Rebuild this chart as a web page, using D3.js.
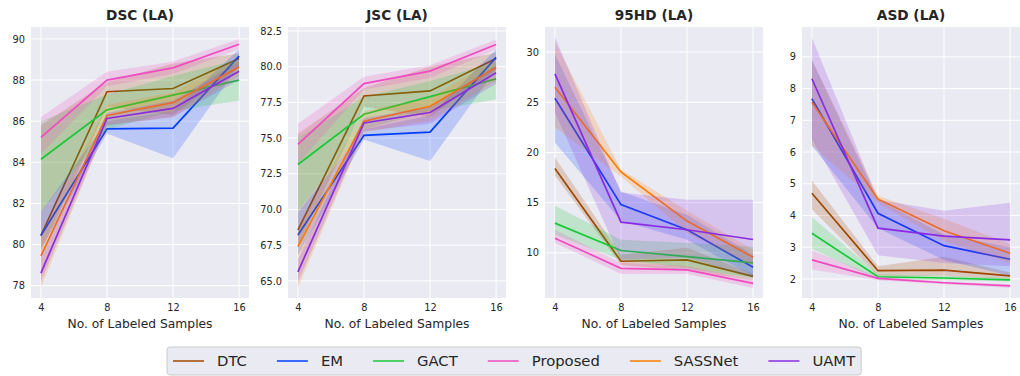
<!DOCTYPE html>
<html lang="en">
<head>
  <meta charset="UTF-8">
  <script src="https://d3js.org/d3.v7.min.js"></script>
  <style>
    body { margin: 0; background: #fff; }
    svg { display: block; font-family: "DejaVu Sans", sans-serif; }
  </style>
</head>
<body>
  <script>
    const width = 1020;
    const height = 376;

    const samples = [4, 8, 12, 16];
    const methods = ["DTC", "EM", "GACT", "Proposed", "SASSNet", "UAMT"];
    const colors = ["#9f4800", "#023eff", "#1ac938", "#f14cc1", "#ff7c00", "#8b2be2"];

    // DSC (LA): mean, lower and upper bound of the band, per method
    const dscMean = {
      DTC: [80.44, 87.43, 87.59, 89.05], EM: [80.44, 85.63, 85.66, 89.16],
      GACT: [84.15, 86.55, 87.27, 88.0], Proposed: [85.21, 88.0, 88.59, 89.74],
      SASSNet: [79.45, 86.28, 86.9, 88.64], UAMT: [78.61, 86.13, 86.62, 88.43]
    };
    const dscLow = {
      DTC: [79.6, 86.7, 86.3, 88.6], EM: [79.8, 85.4, 84.2, 88.7],
      GACT: [81.6, 85.6, 86.5, 87.0], Proposed: [84.4, 87.7, 88.3, 89.5],
      SASSNet: [77.9, 85.8, 86.2, 88.2], UAMT: [78.2, 85.8, 86.2, 88.0]
    };
    const dscHigh = {
      DTC: [85.8, 87.9, 88.8, 89.3], EM: [81.6, 86.0, 86.5, 89.5],
      GACT: [86.0, 87.3, 88.2, 89.0], Proposed: [86.2, 88.4, 88.9, 90.0],
      SASSNet: [80.5, 86.8, 87.4, 89.1], UAMT: [79.5, 86.4, 87.0, 88.9]
    };

    // JSC (LA)
    const jscMean = {
      DTC: [68.56, 77.95, 78.3, 80.58], EM: [68.21, 75.19, 75.42, 80.65],
      GACT: [73.15, 76.67, 77.9, 79.15], Proposed: [74.56, 78.82, 79.69, 81.56],
      SASSNet: [67.4, 76.18, 77.23, 79.95], UAMT: [65.63, 76.06, 76.79, 79.57]
    };
    const jscLow = {
      DTC: [67.5, 77.2, 76.5, 79.8], EM: [66.8, 74.9, 73.4, 79.8],
      GACT: [69.9, 75.6, 76.9, 77.7], Proposed: [73.2, 78.4, 79.2, 81.2],
      SASSNet: [64.5, 75.4, 76.2, 79.0], UAMT: [64.9, 75.5, 76.0, 78.8]
    };
    const jscHigh = {
      DTC: [75.3, 78.5, 80.0, 81.0], EM: [69.8, 75.6, 76.6, 81.2],
      GACT: [75.0, 77.9, 79.0, 80.3], Proposed: [76.0, 79.3, 80.1, 81.9],
      SASSNet: [68.8, 76.9, 77.8, 80.6], UAMT: [66.5, 76.4, 77.2, 80.1]
    };

    // 95HD (LA)
    const hdMean = {
      DTC: [18.4, 9.16, 9.3, 7.66], EM: [25.4, 14.8, 12.3, 8.56],
      GACT: [12.96, 10.23, 9.63, 9.0], Proposed: [11.46, 8.46, 8.3, 6.96],
      SASSNet: [26.5, 18.06, 13.16, 9.56], UAMT: [27.83, 13.06, 12.3, 11.33]
    };
    const hdLow = {
      DTC: [17.7, 8.8, 8.2, 7.3], EM: [21.0, 13.2, 11.3, 7.7],
      GACT: [11.8, 9.3, 8.5, 7.5], Proposed: [11.0, 7.9, 7.9, 6.5],
      SASSNet: [22.5, 17.6, 12.0, 8.7], UAMT: [24.0, 9.3, 9.5, 7.6]
    };
    const hdHigh = {
      DTC: [19.5, 9.8, 10.5, 7.9], EM: [29.8, 16.1, 13.8, 9.8],
      GACT: [14.7, 11.3, 11.0, 10.6], Proposed: [12.3, 9.0, 8.7, 7.3],
      SASSNet: [31.0, 18.3, 14.2, 10.3], UAMT: [31.5, 16.0, 15.3, 15.3]
    };

    // ASD (LA)
    const asdMean = {
      DTC: [4.7, 2.26, 2.28, 2.1], EM: [7.68, 4.07, 3.05, 2.62],
      GACT: [3.44, 2.07, 2.03, 1.97], Proposed: [2.6, 2.02, 1.88, 1.78],
      SASSNet: [7.57, 4.52, 3.52, 2.81], UAMT: [8.31, 3.6, 3.35, 3.23]
    };
    const asdLow = {
      DTC: [4.2, 2.1, 2.1, 2.0], EM: [6.2, 3.6, 2.6, 2.1],
      GACT: [2.95, 1.98, 1.97, 1.92], Proposed: [2.3, 1.96, 1.83, 1.72],
      SASSNet: [6.2, 4.4, 3.2, 2.5], UAMT: [6.4, 2.75, 2.5, 2.4]
    };
    const asdHigh = {
      DTC: [5.1, 2.4, 2.7, 2.2], EM: [8.9, 4.5, 3.4, 3.0],
      GACT: [3.95, 2.15, 2.1, 2.03], Proposed: [2.9, 2.07, 1.92, 1.83],
      SASSNet: [8.9, 4.62, 3.9, 3.1], UAMT: [9.6, 4.5, 4.15, 4.4]
    };

    const panels = [
      { title: "DSC (LA)", mean: dscMean, low: dscLow, high: dscHigh,
        domain: [77.4, 90.58], ticks: [78, 80, 82, 84, 86, 88, 90], fmt: d3.format("d"), x0: 31 },
      { title: "JSC (LA)", mean: jscMean, low: jscLow, high: jscHigh,
        domain: [63.8, 82.78], ticks: [65, 67.5, 70, 72.5, 75, 77.5, 80, 82.5], fmt: d3.format(".1f"), x0: 288 },
      { title: "95HD (LA)", mean: hdMean, low: hdLow, high: hdHigh,
        domain: [5.5, 32.5], ticks: [10, 15, 20, 25, 30], fmt: d3.format("d"), x0: 545 },
      { title: "ASD (LA)", mean: asdMean, low: asdLow, high: asdHigh,
        domain: [1.4, 9.94], ticks: [2, 3, 4, 5, 6, 7, 8, 9], fmt: d3.format("d"), x0: 802 }
    ];

    const plotW = 218, plotTop = 27, plotBottom = 298;
    const textColor = "#262626";

    const svg = d3.select("body").append("svg")
      .attr("width", width)
      .attr("height", height);

    panels.forEach(p => {
      const x = d3.scaleLinear().domain([3.4, 16.6]).range([p.x0, p.x0 + plotW]);
      const y = d3.scaleLinear().domain(p.domain).range([plotBottom, plotTop]);
      const g = svg.append("g");

      g.append("rect")
        .attr("x", p.x0).attr("y", plotTop)
        .attr("width", plotW).attr("height", plotBottom - plotTop)
        .attr("fill", "#eaeaf2");

      // grid
      g.selectAll(".gx").data(samples).enter().append("line")
        .attr("x1", d => x(d)).attr("x2", d => x(d))
        .attr("y1", plotTop).attr("y2", plotBottom)
        .attr("stroke", "#fff").attr("stroke-width", 1);
      g.selectAll(".gy").data(p.ticks).enter().append("line")
        .attr("x1", p.x0).attr("x2", p.x0 + plotW)
        .attr("y1", d => y(d)).attr("y2", d => y(d))
        .attr("stroke", "#fff").attr("stroke-width", 1);

      // axes (labels only, seaborn darkgrid style)
      const xAxis = g.append("g")
        .attr("transform", `translate(0,${plotBottom})`)
        .call(d3.axisBottom(x).tickValues(samples).tickSize(0).tickPadding(6));
      const yAxis = g.append("g")
        .attr("transform", `translate(${p.x0},0)`)
        .call(d3.axisLeft(y).tickValues(p.ticks).tickFormat(p.fmt).tickSize(0).tickPadding(6));
      [xAxis, yAxis].forEach(a => {
        a.select(".domain").remove();
        a.selectAll("text")
          .attr("fill", textColor)
          .style("font-size", "9.8px")
          .style("font-family", "DejaVu Sans, sans-serif");
      });

      const area = d3.area()
        .x((d, i) => x(samples[i]))
        .y0(d => y(d[0]))
        .y1(d => y(d[1]));
      const line = d3.line()
        .x((d, i) => x(samples[i]))
        .y(d => y(d));

      methods.forEach((m, k) => {
        const band = p.low[m].map((v, i) => [v, p.high[m][i]]);
        g.append("path")
          .attr("d", line(p.mean[m]))
          .attr("fill", "none")
          .attr("stroke", colors[k])
          .attr("stroke-width", 1.7);
        g.append("path")
          .attr("d", area(band))
          .attr("fill", colors[k])
          .attr("fill-opacity", 0.2);
      });

      g.append("text")
        .attr("x", p.x0 + plotW / 2).attr("y", 20)
        .attr("text-anchor", "middle")
        .attr("font-weight", "bold")
        .attr("font-size", "13.7px")
        .attr("fill", textColor)
        .text(p.title);

      g.append("text")
        .attr("x", p.x0 + plotW / 2).attr("y", 328)
        .attr("text-anchor", "middle")
        .attr("font-size", "12.3px")
        .attr("fill", textColor)
        .text("No. of Labeled Samples");
    });

    // legend
    const legend = svg.append("g");
    const legBox = legend.append("rect")
      .attr("x", 167).attr("y", 347)
      .attr("height", 28).attr("rx", 3)
      .attr("fill", "#eaeaf2")
      .attr("stroke", "#cccccc");
    let lx = 173;
    methods.forEach((m, k) => {
      legend.append("line")
        .attr("x1", lx).attr("x2", lx + 31)
        .attr("y1", 361).attr("y2", 361)
        .attr("stroke", colors[k]).attr("stroke-width", 1.5);
      const t = legend.append("text")
        .attr("x", lx + 44).attr("y", 366)
        .attr("font-size", "14.8px")
        .attr("fill", textColor)
        .text(m);
      lx += 44 + t.node().getComputedTextLength() + 30;
    });
    legBox.attr("width", lx - 30 + 6 - 167);
  </script>
</body>
</html>
